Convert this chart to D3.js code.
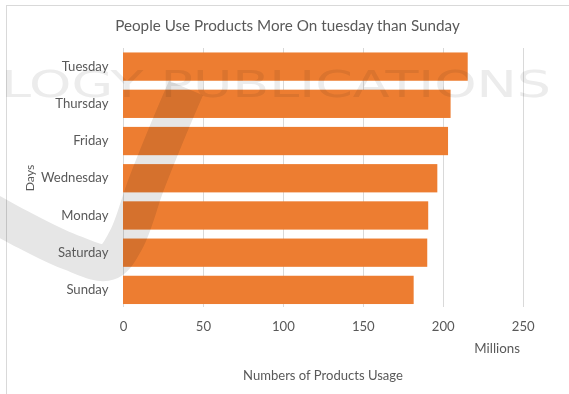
<!DOCTYPE html>
<html>
<head>
<meta charset="utf-8">
<script src="https://cdn.jsdelivr.net/npm/d3@7"></script>
<style>
  html, body { margin: 0; padding: 0; background: #fff; }
  svg { display: block; }
</style>
</head>
<body>
<svg id="chart" width="569" height="394"></svg>
<script>
// ---- data ----
const days = ["Tuesday", "Thursday", "Friday", "Wednesday", "Monday", "Saturday", "Sunday"];
const usage = [215.6, 204.9, 203.3, 196.6, 190.9, 190.3, 181.8];
const xTicks = [0, 50, 100, 150, 200, 250];
const titleText = "People Use Products More On tuesday than Sunday";
const xTitle = "Numbers of Products Usage";
const yTitle = "Days";
const unitLabel = "Millions";
const watermarkText = "LOGY PUBLICATIONS";

const FONT = "Lato, 'Open Sans', sans-serif";
const TXT = "#595959";
const GRID = "#d9d9d9";
const BAR = "#ED7D31";

const svg = d3.select("#chart");
svg.append("rect").attr("width", 569).attr("height", 394).attr("fill", "#fff");

// chart area border
svg.append("rect")
  .attr("x", 6.5).attr("y", 5.5).attr("width", 620).attr("height", 420)
  .attr("fill", "none").attr("stroke", GRID).attr("stroke-width", 1);

const x = d3.scaleLinear().domain([0, 250]).range([123, 522.7]);
const y = d3.scaleBand().domain(days).range([48, 308.5]).paddingInner(0.24).paddingOuter(0.12);

// fit helper: set font-size so that text has target width
function fit(sel, target, base) {
  sel.attr("font-size", base);
  const w = sel.node().getComputedTextLength();
  const fs = base * target / w;
  sel.attr("font-size", fs);
  return fs;
}

// gridlines
svg.append("g").selectAll("line").data(xTicks).join("line")
  .attr("x1", d => Math.round(x(d)) + 0.5).attr("x2", d => Math.round(x(d)) + 0.5)
  .attr("y1", 48).attr("y2", 307)
  .attr("stroke", GRID).attr("stroke-width", 1);

// bars
const data = days.map((d, i) => ({ day: d, value: usage[i] }));
svg.append("g").selectAll("rect").data(data).join("rect")
  .attr("x", x(0))
  .attr("y", d => y(d.day))
  .attr("width", d => x(d.value) - x(0))
  .attr("height", y.bandwidth())
  .attr("fill", BAR);

// swoosh watermark, multiplied over everything below it
const wm = svg.append("g").style("mix-blend-mode", "multiply").attr("pointer-events", "none");
const swoosh = d3.line().curve(d3.curveCatmullRom.alpha(0.5));
wm.append("path")
  .attr("d", swoosh([[-30, 200], [20, 228], [70, 252], [108, 262], [126, 240], [146, 185], [166, 135], [186, 88]]))
  .attr("fill", "none").attr("stroke", "#e6e6e6").attr("stroke-width", 37);

// measure category font size
const probe = svg.append("text").attr("font-family", FONT).text("Wednesday");
const catFs = fit(probe, 67.6, 12);
probe.remove();

// y axis
const gy = svg.append("g").attr("transform", "translate(123,0)")
  .call(d3.axisLeft(y).tickSize(0).tickPadding(14.5));
gy.select(".domain").remove();
gy.selectAll("text").attr("font-family", FONT).attr("font-size", catFs).attr("fill", TXT);

// x axis
const gx = svg.append("g").attr("transform", "translate(0,308)")
  .call(d3.axisBottom(x).tickValues(xTicks).tickSize(0).tickPadding(0));
gx.select(".domain").remove();
gx.selectAll("text")
  .attr("font-family", FONT).attr("font-size", catFs).attr("fill", TXT)
  .attr("dy", null).attr("y", 331 - 308);

// title
const t = svg.append("text")
  .attr("x", 287.5).attr("y", 30.5).attr("text-anchor", "middle")
  .attr("font-family", FONT).attr("fill", TXT).text(titleText);
fit(t, 345, 15);

// units label
const m = svg.append("text")
  .attr("x", 497.2).attr("y", 353).attr("text-anchor", "middle")
  .attr("font-family", FONT).attr("fill", TXT).text(unitLabel);
fit(m, 45.7, catFs);

// x title
const xt = svg.append("text")
  .attr("x", 323).attr("y", 380).attr("text-anchor", "middle")
  .attr("font-family", FONT).attr("fill", TXT).text(xTitle);
fit(xt, 160, catFs);

// y title
const yt = svg.append("text")
  .attr("transform", "translate(33.5,178) rotate(-90)")
  .attr("text-anchor", "middle")
  .attr("font-family", FONT).attr("fill", TXT).text(yTitle);
fit(yt, 26.7, catFs);

// faint watermark letters from the source picture, multiplied over the chart
svg.append("text")
  .attr("x", 1).attr("y", 97)
  .attr("font-family", "'DejaVu Sans', sans-serif")
  .attr("font-size", 38).attr("fill", "#ececec")
  .attr("textLength", 550).attr("lengthAdjust", "spacingAndGlyphs")
  .style("mix-blend-mode", "multiply").attr("pointer-events", "none")
  .text(watermarkText);
</script>
</body>
</html>
